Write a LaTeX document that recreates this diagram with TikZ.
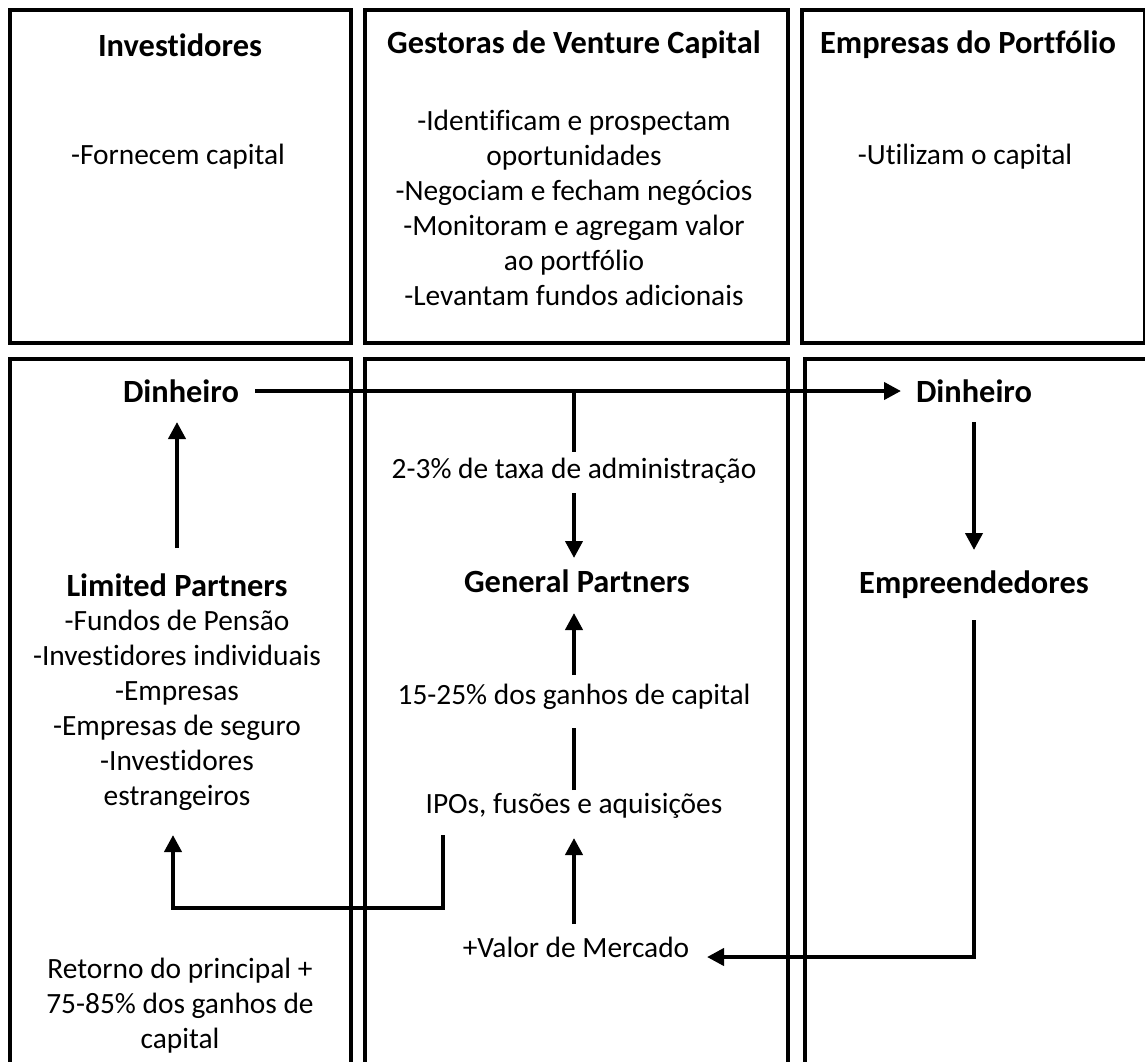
\documentclass[tikz,border=0pt]{standalone}
\usepackage{fontspec}
\setmainfont{Carlito}[Ligatures={NoCommon}]
\usetikzlibrary{arrows.meta}
\begin{document}
\begin{tikzpicture}[x=0.5pt,y=-0.5pt,
  box/.style={draw,line width=2pt},
  txt/.style={inner sep=0pt,align=center,font=\fontsize{14.7}{17.5}\selectfont},
  hd/.style={txt,font=\fontsize{16.2}{17.5}\selectfont\bfseries},
  arr/.style={line width=2pt,line join=miter,-{Triangle[width=8.5pt,length=8.5pt]}},
  ln/.style={line width=2pt}]
\useasboundingbox (0,0) rectangle (1145,1061);
\clip (0,0) rectangle (1145,1061);
% boxes
\draw[box] (10,10) rectangle (351,343);
\draw[box] (365,10) rectangle (788,343);
\draw[box] (802,10) rectangle (1145,343);
\draw[box] (10,359) rectangle (351,1090);
\draw[box] (365,359) rectangle (788,1090);
\draw[box] (805,359) rectangle (1170,1090);
% top texts
\node[hd] (inv) at (180,45) {Investidores};
\node[txt] (fc) at (178,157) {-Fornecem capital};
\node[hd] (gvc) at (574,45) {Gestoras de Venture Capital};
\node[txt] (gvt) at (574,208) {-Identificam e prospectam\\oportunidades\\-Negociam e fecham negócios\\-Monitoram e agregam valor\\ao portfólio\\-Levantam fundos adicionais};
\node[hd] (edp) at (968,45) {Empresas do Portfólio};
\node[txt] (uc) at (965,157) {-Utilizam o capital};
% bottom texts
\node[hd] (d1) at (181,391) {Dinheiro};
\node[hd] (d2) at (974,391) {Dinheiro};
\node[txt] (tax) at (574,471) {2-3\% de taxa de administração};
\node[hd] (gp) at (577,581) {General Partners};
\node[hd] (lp) at (177,585) {Limited Partners};
\node[txt] (lst) at (177,710) {-Fundos de Pensão\\-Investidores individuais\\-Empresas\\-Empresas de seguro\\-Investidores\\estrangeiros};
\node[txt] (cap) at (574,697) {15-25\% dos ganhos de capital};
\node[txt] (ipo) at (574,806) {IPOs, fusões e aquisições};
\node[txt] (vm) at (576,947) {+Valor de Mercado};
\node[hd] (emp) at (974,585) {Empreendedores};
\node[txt] (ret) at (180,1006) {Retorno do principal +\\75-85\% dos ganhos de\\capital};
% connectors
\draw[arr,shorten <=37pt,shorten >=36.5pt] (d1.center) -- (d2.center);
\draw[ln,shorten >=9.5pt] (d1.center -| tax.center) -- (tax.center);
\draw[arr,shorten <=11pt,shorten >=11.5pt] (tax.center) -- (tax.center |- gp.center);
\draw[arr,shorten <=11pt,shorten >=16pt] (cap.center) -- (cap.center |- gp.center);
\draw[ln,shorten <=8pt,shorten >=15.5pt] (ipo.center) -- (cap.center);
\draw[arr,shorten <=11.5pt,shorten >=16pt] (vm.center -| ipo.center) -- (ipo.center);
\draw[arr,shorten <=18.5pt,shorten >=15.5pt] (lp.center) -- (lp.center |- d1.center);
\draw[arr,shorten <=15.5pt,shorten >=17.5pt] (d2.center) -- (emp.center);
\coordinate (c1) at (974,957);
\draw[arr,shorten <=17.5pt,shorten >=65.5pt] (emp.center) -- (c1) -- (c1 -| vm.center);
\coordinate (r0) at (443,835);
\coordinate (r1) at (443,908);
\coordinate (r2) at (173,908);
\coordinate (r3) at (173,835);
\draw[arr] (r0) -- (r1) -- (r2) -- (r3);
\end{tikzpicture}
\end{document}
